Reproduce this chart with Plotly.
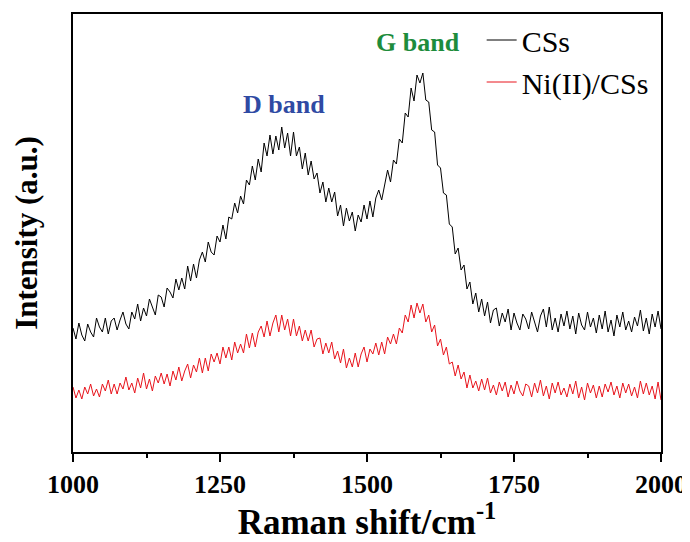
import plotly.graph_objects as go

raman_shift = list(range(1000, 2001, 5))

intensity_css = [
    124, 113, 129, 117, 111, 128, 120, 115, 134, 125,
    120, 134, 118, 131, 134, 122, 132, 140, 128, 123,
    140, 133, 148, 131, 144, 136, 153, 144, 137, 157,
    155, 145, 164, 160, 154, 173, 162, 174, 163, 186,
    171, 188, 174, 192, 200, 190, 210, 200, 197, 216,
    210, 227, 213, 235, 233, 249, 239, 256, 248, 272,
    267, 286, 272, 293, 280, 309, 296, 317, 298, 316,
    302, 325, 304, 319, 296, 320, 296, 305, 283, 299,
    277, 291, 273, 279, 259, 270, 250, 264, 250, 260,
    236, 247, 226, 244, 231, 240, 221, 237, 230, 247,
    233, 251, 235, 254, 262, 252, 268, 282, 270, 292,
    288, 313, 309, 339, 335, 364, 351, 377, 369, 379,
    352, 350, 322, 320, 287, 284, 259, 257, 228, 225,
    198, 204, 182, 187, 163, 170, 148, 159, 140, 153,
    136, 150, 129, 142, 144, 126, 139, 130, 143, 122,
    139, 129, 122, 138, 133, 123, 140, 129, 120, 136,
    143, 125, 145, 122, 134, 120, 138, 126, 141, 123,
    136, 118, 139, 127, 122, 140, 125, 134, 119, 137,
    123, 141, 120, 132, 116, 137, 125, 140, 122, 131,
    120, 135, 126, 142, 121, 134, 118, 138, 125, 141,
    123,
]

intensity_ni_css = [
    65, 54, 62, 53, 65, 58, 68, 56, 63, 55,
    68, 61, 72, 58, 68, 58, 69, 63, 75, 62,
    69, 59, 74, 64, 79, 63, 73, 61, 76, 69,
    79, 68, 78, 66, 81, 72, 85, 71, 81, 88,
    74, 87, 80, 94, 79, 94, 81, 98, 90, 99,
    88, 105, 94, 105, 92, 110, 99, 108, 99, 118,
    104, 119, 105, 120, 126, 115, 131, 116, 129, 137,
    120, 137, 122, 133, 116, 133, 116, 126, 111, 122,
    111, 122, 105, 113, 114, 98, 109, 99, 110, 93,
    101, 89, 103, 84, 94, 85, 99, 85, 98, 105,
    90, 103, 98, 109, 97, 110, 98, 115, 108, 118,
    108, 124, 119, 137, 130, 147, 134, 149, 139, 148,
    130, 137, 120, 127, 106, 113, 97, 105, 88, 90,
    76, 87, 73, 80, 64, 77, 64, 71, 61, 73,
    62, 74, 59, 67, 57, 70, 61, 70, 55, 67,
    58, 71, 61, 56, 68, 66, 55, 69, 59, 72,
    56, 66, 53, 69, 59, 70, 57, 64, 55, 68,
    58, 71, 54, 65, 52, 69, 59, 67, 54, 66,
    55, 68, 60, 70, 57, 66, 54, 69, 59, 68,
    56, 65, 54, 71, 58, 69, 57, 66, 53, 70,
    52,
]

series_names = ["CSs", "Ni(II)/CSs"]
series_colors = ["#000000", "#e8141c"]
x_ticks = [1000, 1250, 1500, 1750, 2000]

band_labels = ["D band", "G band"]
band_x = [1358, 1587]
band_y = [348, 410]
band_colors = ["#2f4aa3", "#1d8c3c"]

SERIF = "Liberation Serif, Times New Roman, serif"

fig = go.Figure()
for name, ys, col in zip(series_names, [intensity_css, intensity_ni_css], series_colors):
    fig.add_trace(go.Scatter(
        x=raman_shift, y=ys, mode="lines", name=name,
        line=dict(color=col, width=1),
    ))

for lab, bx, by, bc in zip(band_labels, band_x, band_y, band_colors):
    fig.add_annotation(
        x=bx, y=by, text="<b>%s</b>" % lab, showarrow=False,
        font=dict(family=SERIF, size=26, color=bc),
        xanchor="center", yanchor="middle",
    )

# page body adds an 8px offset; sizes compensate so the plot box sits at x 73-661, y 14-452
fig.update_layout(
    width=682, height=534,
    margin=dict(l=65, r=29, t=6, b=90),
    paper_bgcolor="white", plot_bgcolor="white",
    font=dict(family=SERIF, color="black"),
    showlegend=True,
    legend=dict(
        x=0.695, y=1.0, xanchor="left", yanchor="top",
        bgcolor="rgba(0,0,0,0)", borderwidth=0,
        font=dict(family=SERIF, size=30, color="black"),
        tracegroupgap=0,
    ),
    xaxis=dict(
        range=[1000, 2000],
        tickvals=x_ticks,
        ticktext=["<b>%d</b>" % v for v in x_ticks],
        ticks="outside", ticklen=8, tickwidth=2, tickcolor="black",
        minor=dict(ticks="outside", dtick=125, tick0=1000, ticklen=4, tickwidth=2, tickcolor="black"),
        showline=True, linewidth=2, linecolor="black", mirror=True,
        showgrid=False, zeroline=False,
        tickfont=dict(family=SERIF, size=26, color="black"),
        title=dict(text="<b>Raman shift/cm<sup>-1</sup></b>",
                   font=dict(family=SERIF, size=35, color="black"), standoff=1),
        automargin=False,
    ),
    yaxis=dict(
        range=[0, 438],
        showticklabels=False, ticks="",
        showline=True, linewidth=2, linecolor="black", mirror=True,
        showgrid=False, zeroline=False,
        title=dict(text="<b>Intensity (a.u.)</b>",
                   font=dict(family=SERIF, size=31, color="black"), standoff=24),
        automargin=False,
    ),
)

fig.write_html("out.html")
